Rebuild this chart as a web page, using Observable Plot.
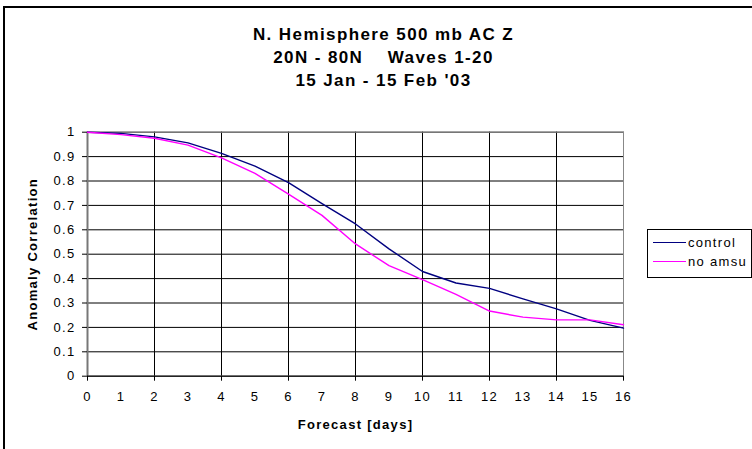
<!DOCTYPE html>
<html>
<head>
<meta charset="utf-8">
<script src="https://cdn.jsdelivr.net/npm/d3@7"></script>
<script src="https://cdn.jsdelivr.net/npm/@observablehq/plot@0.6"></script>
<style>
  html, body { margin: 0; padding: 0; background: #fff; }
  #wrap { position: relative; width: 752px; height: 449px; overflow: hidden; font-family: "Liberation Sans", Arial, sans-serif; }
  #frame { position: absolute; left: 3px; top: 6px; width: 800px; height: 500px; border-left: 2px solid #000; border-top: 2px solid #000; box-sizing: border-box; }
  #title { position: relative; height: 100px; box-sizing: border-box; padding-top: 23px; text-align: center; font-weight: bold; font-size: 17px; line-height: 23px; letter-spacing: 1.4px; white-space: pre; padding-left: 15px; color: #000; }
  #legend { position: absolute; left: 647px; top: 229px; width: 105px; height: 49px; border: 1px solid #000; box-sizing: border-box; background: #fff; font-size: 13px; letter-spacing: 1.3px; }
  .item { position: absolute; left: 5px; height: 16px; display: flex; align-items: center; }
  .sw { display: inline-block; width: 33px; height: 0; border-top: 1.5px solid; margin-right: 2px; }
  svg { display: block; }
</style>
</head>
<body>
<div id="wrap">
  <div id="frame"></div>
  <div id="title"></div>
  <div id="chart"></div>
  <div id="legend"></div>
</div>
<script>
const titleLines = ["N. Hemisphere 500 mb AC Z", "20N - 80N    Waves 1-20", "15 Jan - 15 Feb '03"];
const days = [0, 1, 2, 3, 4, 5, 6, 7, 8, 9, 10, 11, 12, 13, 14, 15, 16];
const control = [1, 0.995, 0.981, 0.956, 0.913, 0.861, 0.793, 0.707, 0.624, 0.522, 0.429, 0.382, 0.36, 0.317, 0.276, 0.229, 0.197];
const noAmsu = [1, 0.99, 0.975, 0.947, 0.895, 0.831, 0.746, 0.659, 0.542, 0.453, 0.396, 0.335, 0.267, 0.242, 0.231, 0.231, 0.211];
const seriesNames = ["control", "no amsu"];
const seriesColors = ["#000080", "#FF00FF"];
const yTicks = [0, 0.1, 0.2, 0.3, 0.4, 0.5, 0.6, 0.7, 0.8, 0.9, 1];
const xGridTicks = [0, 2, 4, 6, 8, 10, 12, 14, 16];
const xLabel = "Forecast [days]";
const yLabel = "Anomaly Correlation";

document.getElementById("title").textContent = titleLines.join("\n");

const data = [];
days.forEach((d, i) => {
  data.push({day: d, value: control[i], series: seriesNames[0]});
  data.push({day: d, value: noAmsu[i], series: seriesNames[1]});
});

const chart = Plot.plot({
  width: 752,
  height: 349,
  marginLeft: 87,
  marginRight: 129,
  marginTop: 31.7,
  marginBottom: 73.3,
  style: {fontFamily: "'Liberation Sans', Arial, sans-serif", fontSize: "13px", letterSpacing: "1.3px", color: "#000", background: "#fff"},
  x: {domain: [0, 16], label: null},
  y: {domain: [0, 1], label: null},
  color: {domain: seriesNames, range: seriesColors},
  marks: [
    Plot.gridY(yTicks, {stroke: "#000", strokeOpacity: 1, strokeWidth: 1}),
    Plot.gridX(xGridTicks, {stroke: "#000", strokeOpacity: 1, strokeWidth: 1}),
    Plot.frame({stroke: "#888", strokeWidth: 1}),
    Plot.ruleX([0], {stroke: "#777", strokeWidth: 2}),
    Plot.ruleY([0], {stroke: "#000", strokeWidth: 1}),
    Plot.axisY(yTicks, {tickSize: 5, tickPadding: 7, tickFormat: d => String(+d.toFixed(1)), fontSize: 13, label: null}),
    Plot.axisX(xGridTicks, {tickSize: 5, tickFormat: () => "", label: null}),
    Plot.axisX(days, {tickSize: 0, tickPadding: 16, tickFormat: d => String(d), fontSize: 13, label: null}),
    Plot.line(data, {x: "day", y: "value", z: "series", stroke: "series", strokeWidth: 1.4}),
    Plot.text([xLabel], {frameAnchor: "bottom", lineAnchor: "middle", dy: 49, fontWeight: "bold", fontSize: 13}),
    Plot.text([yLabel], {frameAnchor: "left", textAnchor: "middle", lineAnchor: "middle", rotate: -90, dx: -55, fontWeight: "bold", fontSize: 13})
  ]
});
document.getElementById("chart").appendChild(chart);

const legend = document.getElementById("legend");
seriesNames.forEach((name, i) => {
  const item = document.createElement("div");
  item.className = "item";
  item.style.top = (4 + i * 19) + "px";
  const sw = document.createElement("span");
  sw.className = "sw";
  sw.style.borderTopColor = seriesColors[i];
  item.appendChild(sw);
  item.appendChild(document.createTextNode(name));
  legend.appendChild(item);
});
</script>
</body>
</html>
